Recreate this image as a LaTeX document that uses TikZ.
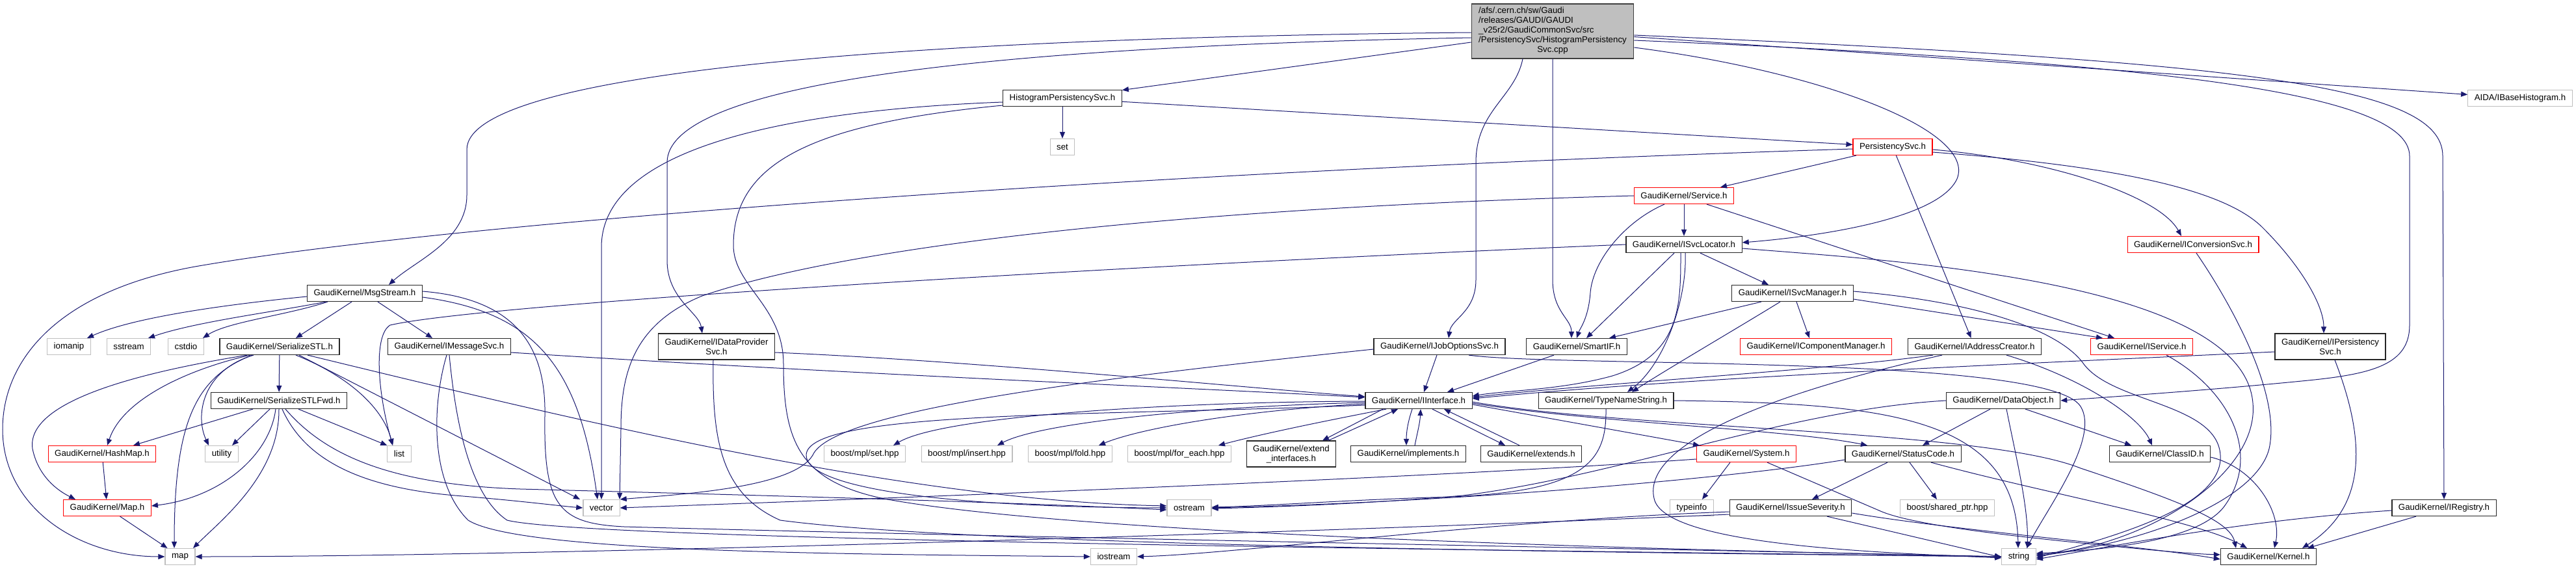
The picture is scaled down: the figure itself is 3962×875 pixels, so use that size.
\documentclass[tikz,border=0pt]{standalone}
\usepackage{fontspec}
\setmainfont{Liberation Sans}
\usetikzlibrary{arrows.meta}
\definecolor{edgeblue}{HTML}{191970}
\definecolor{extgray}{HTML}{BFBFBF}

\begin{document}
\begin{tikzpicture}[x=1pt,y=-1pt,>={Triangle[length=10pt,width=8pt]},
every node/.style={font=\fontsize{13.3}{15}\selectfont,inner xsep=10pt,inner ysep=6pt,minimum height=25pt,fill=white,line width=1.2pt},
hdr/.style={draw=black!85},
trunc/.style={draw=red},
sys/.style={draw=extgray},
twoline/.style={align=center,minimum height=40pt},
rootfile/.style={draw=black!75,fill=extgray,inner xsep=11pt,inner ysep=4.5pt},
dep/.style={->,draw=edgeblue,line width=1pt}]
\useasboundingbox (0,0) rectangle (3962,875);

% the file itself
\node[rootfile] (root) at (2388,48) {\begin{tabular}{@{}l@{}}/afs/.cern.ch/sw/Gaudi\\/releases/GAUDI/GAUDI\\\_v25r2/GaudiCommonSvc/src\\/PersistencySvc/HistogramPersistency\\\multicolumn{1}{@{}c@{}}{Svc.cpp}\end{tabular}};

\node[hdr] (hps) at (1634,151) {HistogramPersistencySvc.h};
\node[sys] (aida) at (3876,151) {AIDA/IBaseHistogram.h};
\node[sys] (set) at (1634,226) {set};
\node[trunc] (psvc) at (2911,226) {PersistencySvc.h};
\node[trunc] (service) at (2590,301) {GaudiKernel/Service.h};
\node[hdr] (isvcloc) at (2590,376) {GaudiKernel/ISvcLocator.h};
\node[trunc] (iconv) at (3373,376) {GaudiKernel/IConversionSvc.h};
\node[hdr] (msgstream) at (561,451) {GaudiKernel/MsgStream.h};
\node[hdr] (isvcmgr) at (2757,451) {GaudiKernel/ISvcManager.h};

\node[sys] (iomanip) at (106,533) {iomanip};
\node[sys] (sstream) at (198,533) {sstream};
\node[sys] (cstdio) at (286,533) {cstdio};
\node[hdr] (sstl) at (430,533) {GaudiKernel/SerializeSTL.h};
\node[hdr] (imsgsvc) at (691,533) {GaudiKernel/IMessageSvc.h};
\node[hdr,twoline] (idps) at (1102,533) {GaudiKernel/IDataProvider\\Svc.h};
\node[hdr] (ijos) at (2214,533) {GaudiKernel/IJobOptionsSvc.h};
\node[hdr] (smartif) at (2425,533) {GaudiKernel/SmartIF.h};
\node[trunc] (icompmgr) at (2793,533) {GaudiKernel/IComponentManager.h};
\node[hdr] (iaddr) at (3037,533) {GaudiKernel/IAddressCreator.h};
\node[trunc] (iservice) at (3294,533) {GaudiKernel/IService.h};
\node[hdr,twoline] (ipers) at (3584,533) {GaudiKernel/IPersistency\\Svc.h};

\node[hdr] (sstlfwd) at (429,616) {GaudiKernel/SerializeSTLFwd.h};
\node[hdr] (iiface) at (2182,616) {GaudiKernel/IInterface.h};
\node[hdr] (tns) at (2470,616) {GaudiKernel/TypeNameString.h};
\node[hdr] (dataobj) at (3081,616) {GaudiKernel/DataObject.h};

\node[trunc] (hashmap) at (157,698) {GaudiKernel/HashMap.h};
\node[sys] (utility) at (341,698) {utility};
\node[sys] (list) at (614,698) {list};
\node[sys] (mplset) at (1330,698) {boost/mpl/set.hpp};
\node[sys] (mplinsert) at (1487,698) {boost/mpl/insert.hpp};
\node[sys] (mplfold) at (1646,698) {boost/mpl/fold.hpp};
\node[sys] (mplforeach) at (1814,698) {boost/mpl/for\_each.hpp};
\node[hdr,twoline] (extif) at (1986,698) {GaudiKernel/extend\\\_interfaces.h};
\node[hdr] (impl) at (2166,698) {GaudiKernel/implements.h};
\node[hdr] (extends) at (2355,698) {GaudiKernel/extends.h};
\node[trunc] (system) at (2686,698) {GaudiKernel/System.h};
\node[hdr] (statuscode) at (2927,698) {GaudiKernel/StatusCode.h};
\node[hdr] (classid) at (3322,698) {GaudiKernel/ClassID.h};

\node[trunc] (gmap) at (165,781) {GaudiKernel/Map.h};
\node[sys] (vector) at (925,781) {vector};
\node[sys] (ostream) at (1829,781) {ostream};
\node[sys] (typeinfo) at (2602,781) {typeinfo};
\node[hdr] (issue) at (2754,781) {GaudiKernel/IssueSeverity.h};
\node[sys] (sharedptr) at (2995,781) {boost/shared\_ptr.hpp};
\node[hdr] (iregistry) at (3759,781) {GaudiKernel/IRegistry.h};

\node[sys] (map) at (277,856) {map};
\node[sys] (iostream) at (1713,856) {iostream};
\node[sys] (string) at (3105,856) {string};
\node[hdr] (kernel) at (3489,856) {GaudiKernel/Kernel.h};

% includes of the .cpp
\draw[dep] (root) -- (hps);
\draw[dep] ([yshift=-2pt]root.west) .. controls (1400,58) and (718,110) .. (718,230) -- (718,300) .. controls (718,370) and (640,400) .. ([xshift=37pt]msgstream.north);
\draw[dep] ([yshift=-10pt]root.west) .. controls (1500,72) and (1026,130) .. (1026,250) -- (1026,400) .. controls (1026,460) and (1075,480) .. ([xshift=-22pt]idps.north);
\draw[dep] ([xshift=-46pt]root.south) .. controls (2330,150) and (2270,170) .. (2270,250) -- (2270,430) .. controls (2270,480) and (2232,490) .. ([xshift=14pt]ijos.north);
\draw[dep] (root.south) -- (2388,430) .. controls (2388,480) and (2417,490) .. ([xshift=-8pt]smartif.north);
\draw[dep] ([yshift=-25pt]root.east) .. controls (2800,110) and (3040,200) .. (3010,275) .. controls (2980,340) and (2780,365) .. ([yshift=3pt]isvcloc.east);
\draw[dep] (root) -- (aida);
\draw[dep] ([yshift=-14pt]root.east) .. controls (3300,95) and (3706,140) .. (3706,240) -- (3706,500) .. controls (3706,560) and (3650,575) .. (3550,585) .. controls (3400,600) and (3250,610) .. (dataobj.east);
\draw[dep] ([yshift=-6pt]root.east) .. controls (3450,95) and (3757,130) .. (3757,240) -- (iregistry.north);

% HistogramPersistencySvc.h
\draw[dep] (hps) -- (set);
\draw[dep] (hps) -- (psvc);
\draw[dep] ([yshift=-6pt]hps.west) .. controls (1200,170) and (925,230) .. (925,380) -- (vector.north);
\draw[dep] ([yshift=-11pt]hps.west) .. controls (1250,190) and (1128,250) .. (1128,377) .. controls (1128,440) and (1205,470) .. (1205,560) .. controls (1205,680) and (1230,740) .. (1360,767) .. controls (1700,830) and (2800,850) .. (string.west);

% PersistencySvc.h
\draw[dep] ([yshift=-3pt]psvc.west) .. controls (1800,262) and (700,340) .. (300,410) .. controls (80,450) and (4,560) .. (4,660) .. controls (4,780) and (120,856) .. (map.west);
\draw[dep] (psvc) -- (service);
\draw[dep] (psvc) -- (iaddr);
\draw[dep] ([yshift=-4pt]psvc.east) .. controls (3150,245) and (3320,300) .. ([xshift=-18pt]iconv.north);
\draw[dep] ([yshift=-8pt]psvc.east) .. controls (3250,255) and (3420,290) .. (3480,350) .. controls (3540,410) and (3574,470) .. ([xshift=-10pt]ipers.north);

% Service.h
\draw[dep] (service) -- (isvcloc);
\draw[dep] (service.west) .. controls (1800,320) and (1300,380) .. (1080,455) .. controls (970,500) and (955,580) .. (955,660) -- ([xshift=28pt]vector.north);
\draw[dep] ([xshift=-30pt]service.south) .. controls (2500,340) and (2450,400) .. (2446,450) .. controls (2443,490) and (2430,505) .. (smartif.north);
\draw[dep] ([xshift=35pt]service.south) -- ([xshift=-42pt]iservice.north);

% ISvcLocator.h
\draw[dep] (isvcloc.west) .. controls (1800,405) and (750,465) .. (600,500) .. controls (575,515) and (580,600) .. ([xshift=-10pt]list.north);
\draw[dep] ([xshift=-15pt]isvcloc.south) -- ([xshift=15pt]smartif.north);
\draw[dep] ([xshift=-5pt]isvcloc.south) .. controls (2585,470) and (2585,545) .. (2480,578) .. controls (2400,600) and (2320,600) .. ([yshift=7pt]iiface.east);
\draw[dep] ([xshift=2pt]isvcloc.south) .. controls (2595,460) and (2560,560) .. ([xshift=33pt]tns.north);
\draw[dep] ([xshift=25pt]isvcloc.south) -- ([xshift=-37pt]isvcmgr.north);
\draw[dep] ([yshift=-6pt]isvcloc.east) .. controls (2900,400) and (3450,430) .. (3465,620) .. controls (3475,730) and (3300,840) .. ([yshift=3pt]string.east);

% ISvcManager.h
\draw[dep] ([xshift=6pt]isvcmgr.south) -- ([xshift=-10pt]icompmgr.north);
\draw[dep] ([yshift=-9pt]isvcmgr.east) -- ([xshift=-60pt]iservice.north);
\draw[dep] ([xshift=-48pt]isvcmgr.south) -- ([xshift=50pt]smartif.north);
\draw[dep] ([xshift=-19pt]isvcmgr.south) .. controls (2680,500) and (2560,570) .. ([xshift=40pt]tns.north);
\draw[dep] ([yshift=3pt]isvcmgr.east) .. controls (3050,465) and (3170,510) .. (3205,560) .. controls (3250,620) and (3410,620) .. (3415,700) .. controls (3420,780) and (3250,825) .. ([yshift=-2pt]string.east);

% MsgStream.h
\draw[dep] ([yshift=-5pt]msgstream.west) .. controls (330,470) and (200,490) .. ([xshift=28pt]iomanip.north);
\draw[dep] ([xshift=-60pt]msgstream.south) .. controls (420,480) and (300,495) .. ([xshift=30pt]sstream.north);
\draw[dep] ([xshift=-57pt]msgstream.south) .. controls (440,485) and (350,495) .. ([xshift=26pt]cstdio.north);
\draw[dep] ([xshift=-20pt]msgstream.south) -- ([xshift=25pt]sstl.north);
\draw[dep] ([xshift=20pt]msgstream.south) -- ([xshift=-26pt]imsgsvc.north);
\draw[dep] ([yshift=-6pt]msgstream.east) .. controls (820,480) and (890,560) .. ([xshift=-6pt]vector.north);
\draw[dep] ([yshift=3pt]msgstream.east) .. controls (800,460) and (840,540) .. (838,640) .. controls (836,780) and (860,805) .. (960,810) .. controls (1500,825) and (2600,845) .. (string.west);

% IMessageSvc.h
\draw[dep] ([yshift=-9pt]imsgsvc.east) .. controls (1300,575) and (1800,595) .. ([yshift=5pt]iiface.west);
\draw[dep] ([xshift=-4pt]imsgsvc.south) .. controls (665,620) and (660,740) .. (720,800) .. controls (800,850) and (1300,852) .. (iostream.west);
\draw[dep] (imsgsvc.south) .. controls (700,640) and (720,760) .. (780,800) .. controls (900,830) and (2200,845) .. (string.west);

% SerializeSTL.h
\draw[dep] (sstl) -- (sstlfwd);
\draw[dep] ([xshift=-45pt]sstl.south) .. controls (300,565) and (190,610) .. ([xshift=8pt]hashmap.north);
\draw[dep] ([xshift=-50pt]sstl.south) .. controls (200,575) and (40,620) .. (50,690) .. controls (60,740) and (100,760) .. ([xshift=-49pt]gmap.north);
\draw[dep] ([xshift=-42pt]sstl.south) .. controls (300,580) and (268,650) .. ([xshift=-9pt]map.north);
\draw[dep] ([xshift=-40pt]sstl.south) .. controls (310,570) and (300,640) .. ([xshift=-20pt]utility.north);
\draw[dep] ([xshift=25pt]sstl.south) .. controls (540,580) and (590,630) .. ([xshift=-10pt]list.north);
\draw[dep] ([xshift=30pt]sstl.south) -- ([xshift=-33pt]vector.north);
\draw[dep] ([xshift=43pt]sstl.south) .. controls (900,650) and (1400,770) .. ([yshift=3pt]ostream.west);

% SerializeSTLFwd.h
\draw[dep] ([xshift=-40pt]sstlfwd.south) -- ([xshift=48pt]hashmap.north);
\draw[dep] ([xshift=-14pt]sstlfwd.south) -- ([xshift=16pt]utility.north);
\draw[dep] ([xshift=-5pt]sstlfwd.south) .. controls (415,700) and (340,765) .. ([yshift=3pt]gmap.east);
\draw[dep] (sstlfwd.south) .. controls (430,730) and (340,800) .. ([xshift=20pt]map.north);
\draw[dep] ([xshift=30pt]sstlfwd.south) -- (list.north west);
\draw[dep] ([xshift=10pt]sstlfwd.south) .. controls (500,700) and (600,745) .. (800,752) .. controls (1100,760) and (1500,770) .. ([yshift=-3pt]ostream.west);
\draw[dep] ([xshift=5pt]sstlfwd.south) .. controls (470,710) and (560,750) .. (700,762) .. controls (800,770) and (860,778) .. (vector.west);
\draw[dep] (hashmap) -- (gmap);
\draw[dep] (gmap) -- (map);

% IDataProviderSvc.h, IJobOptionsSvc.h, SmartIF.h
\draw[dep] ([yshift=-9pt]idps.east) .. controls (1500,555) and (1900,595) .. ([yshift=6pt]iiface.west);
\draw[dep] ([xshift=-5pt]idps.south) .. controls (1095,680) and (1110,760) .. (1200,800) .. controls (1500,840) and (2500,850) .. (string.west);
\draw[dep] ([xshift=-4pt]ijos.south) -- ([xshift=8pt]iiface.north);
\draw[dep] ([yshift=-4pt]ijos.west) .. controls (1700,580) and (1280,630) .. (1250,700) .. controls (1220,750) and (1050,760) .. (vector.north east);
\draw[dep] ([xshift=45pt]ijos.south) .. controls (2400,565) and (3150,545) .. (3200,625) .. controls (3230,673) and (3150,780) .. ([xshift=12pt]string.north);
\draw[dep] ([xshift=-35pt]smartif.south) -- ([xshift=44pt]iiface.north);

% IInterface.h
\draw[dep] ([yshift=-1pt]iiface.west) .. controls (1800,618) and (1450,640) .. ([xshift=44pt]mplset.north);
\draw[dep] ([yshift=-3pt]iiface.west) .. controls (1850,625) and (1600,650) .. ([xshift=47pt]mplinsert.north);
\draw[dep] ([yshift=-5pt]iiface.west) .. controls (1900,632) and (1750,660) .. ([xshift=44pt]mplfold.north);
\draw[dep] ([xshift=-50pt]iiface.south) .. controls (2050,645) and (1950,665) .. ([xshift=60pt]mplforeach.north);
\draw[dep] ([yshift=-7pt]iiface.west) .. controls (1700,640) and (1240,630) .. (1240,700) .. controls (1240,750) and (1450,780) .. (ostream.west);
\draw[dep] ([xshift=-55pt]iiface.south) -- ([xshift=48pt]extif.north);
\draw[dep] ([xshift=57pt]extif.north) -- ([xshift=-32pt]iiface.south);
\draw[dep] ([xshift=-10pt]iiface.south) .. controls (2165,650) and (2163,665) .. ([xshift=-3pt]impl.north);
\draw[dep] ([xshift=10pt]impl.north) .. controls (2180,665) and (2184,650) .. ([xshift=3pt]iiface.south);
\draw[dep] ([xshift=21pt]iiface.south) -- ([xshift=-40pt]extends.north);
\draw[dep] ([xshift=-18pt]extends.north) -- ([xshift=39pt]iiface.south);
\draw[dep] ([yshift=-6pt]iiface.east) -- ([xshift=-72pt]system.north);
\draw[dep] ([yshift=-4pt]iiface.east) .. controls (2450,650) and (2750,660) .. ([xshift=-55pt]statuscode.north);
\draw[dep] ([yshift=-2pt]iiface.east) .. controls (2500,660) and (3050,660) .. (3200,720) .. controls (3350,770) and (3430,800) .. ([xshift=-50pt]kernel.north);

% TypeNameString.h, DataObject.h, ClassID.h
\draw[dep] (tns.south) .. controls (2471,710) and (2440,760) .. (2200,765) .. controls (2050,770) and (1950,778) .. ([yshift=1pt]ostream.east);
\draw[dep] (tns.east) .. controls (2900,620) and (3100,640) .. ([xshift=-1pt]string.north);
\draw[dep] ([xshift=-20pt]dataobj.south) -- ([xshift=30pt]statuscode.north);
\draw[dep] ([xshift=5pt]dataobj.south) .. controls (3100,700) and (3120,780) .. ([xshift=13pt]string.north);
\draw[dep] ([xshift=34pt]dataobj.south) -- ([xshift=-44pt]classid.north);
\draw[dep] (dataobj.west) .. controls (2750,630) and (2500,730) .. (2250,762) .. controls (2100,775) and (1950,780) .. ([yshift=-1pt]ostream.east);
\draw[dep] ([yshift=-5pt]classid.east) .. controls (3470,720) and (3510,790) .. ([xshift=9pt]kernel.north);

% IAddressCreator.h, IService.h, IPersistencySvc.h, IConversionSvc.h, IRegistry.h
\draw[dep] ([xshift=49pt]iaddr.south) .. controls (3200,580) and (3290,640) .. ([xshift=-12pt]classid.north);
\draw[dep] ([xshift=-64pt]iaddr.south) .. controls (2800,570) and (2450,590) .. ([yshift=5pt]iiface.east);
\draw[dep] ([xshift=-50pt]iaddr.south) .. controls (2700,610) and (2520,690) .. (2545,770) .. controls (2570,840) and (2900,850) .. ([yshift=-2pt]string.west);
\draw[dep] ([xshift=38pt]iservice.south) .. controls (3430,600) and (3480,700) .. (3420,780) .. controls (3380,830) and (3250,845) .. ([yshift=5pt]string.east);
\draw[dep] ([yshift=-8pt]ipers.west) .. controls (3100,560) and (2600,580) .. ([yshift=3pt]iiface.east);
\draw[dep] ([xshift=7pt]ipers.south) .. controls (3640,680) and (3640,780) .. ([xshift=52pt]kernel.north);
\draw[dep] ([xshift=5pt]iconv.south) .. controls (3420,450) and (3510,600) .. (3490,690) .. controls (3470,770) and (3300,835) .. ([yshift=1pt]string.east);
\draw[dep] ([yshift=-4pt]iregistry.west) .. controls (3450,800) and (3250,840) .. ([yshift=-4pt]string.east);
\draw[dep] ([xshift=-43pt]iregistry.south) -- ([xshift=60pt]kernel.north);

% System.h, StatusCode.h, IssueSeverity.h
\draw[dep] ([xshift=-25pt]system.south) -- ([xshift=16pt]typeinfo.north);
\draw[dep] ([xshift=32pt]system.south) -- (2890,785) .. controls (2940,808) and (3100,825) .. (3250,840) .. controls (3330,848) and (3380,852) .. ([yshift=3pt]kernel.west);
\draw[dep] ([yshift=-8pt]system.west) .. controls (2200,735) and (1400,765) .. (vector.east);
\draw[dep] ([xshift=-24pt]statuscode.south) -- ([xshift=33pt]issue.north);
\draw[dep] ([xshift=10pt]statuscode.south) -- ([xshift=-16pt]sharedptr.north);
\draw[dep] ([xshift=43pt]statuscode.south) .. controls (3150,760) and (3380,800) .. ([xshift=-33pt]kernel.north);
\draw[dep] ([yshift=-9pt]statuscode.west) .. controls (2700,730) and (2300,770) .. (ostream.east);
\draw[dep] ([yshift=-10pt]issue.west) .. controls (2000,820) and (800,856) .. (map.east);
\draw[dep] ([yshift=-6pt]issue.west) .. controls (2300,800) and (1900,852) .. (iostream.east);
\draw[dep] ([xshift=56pt]issue.south) -- ([yshift=-1pt]string.west);
\draw[dep] ([yshift=-8pt]issue.east) .. controls (3000,815) and (3300,840) .. ([yshift=-4pt]kernel.west);
\end{tikzpicture}
\end{document}
